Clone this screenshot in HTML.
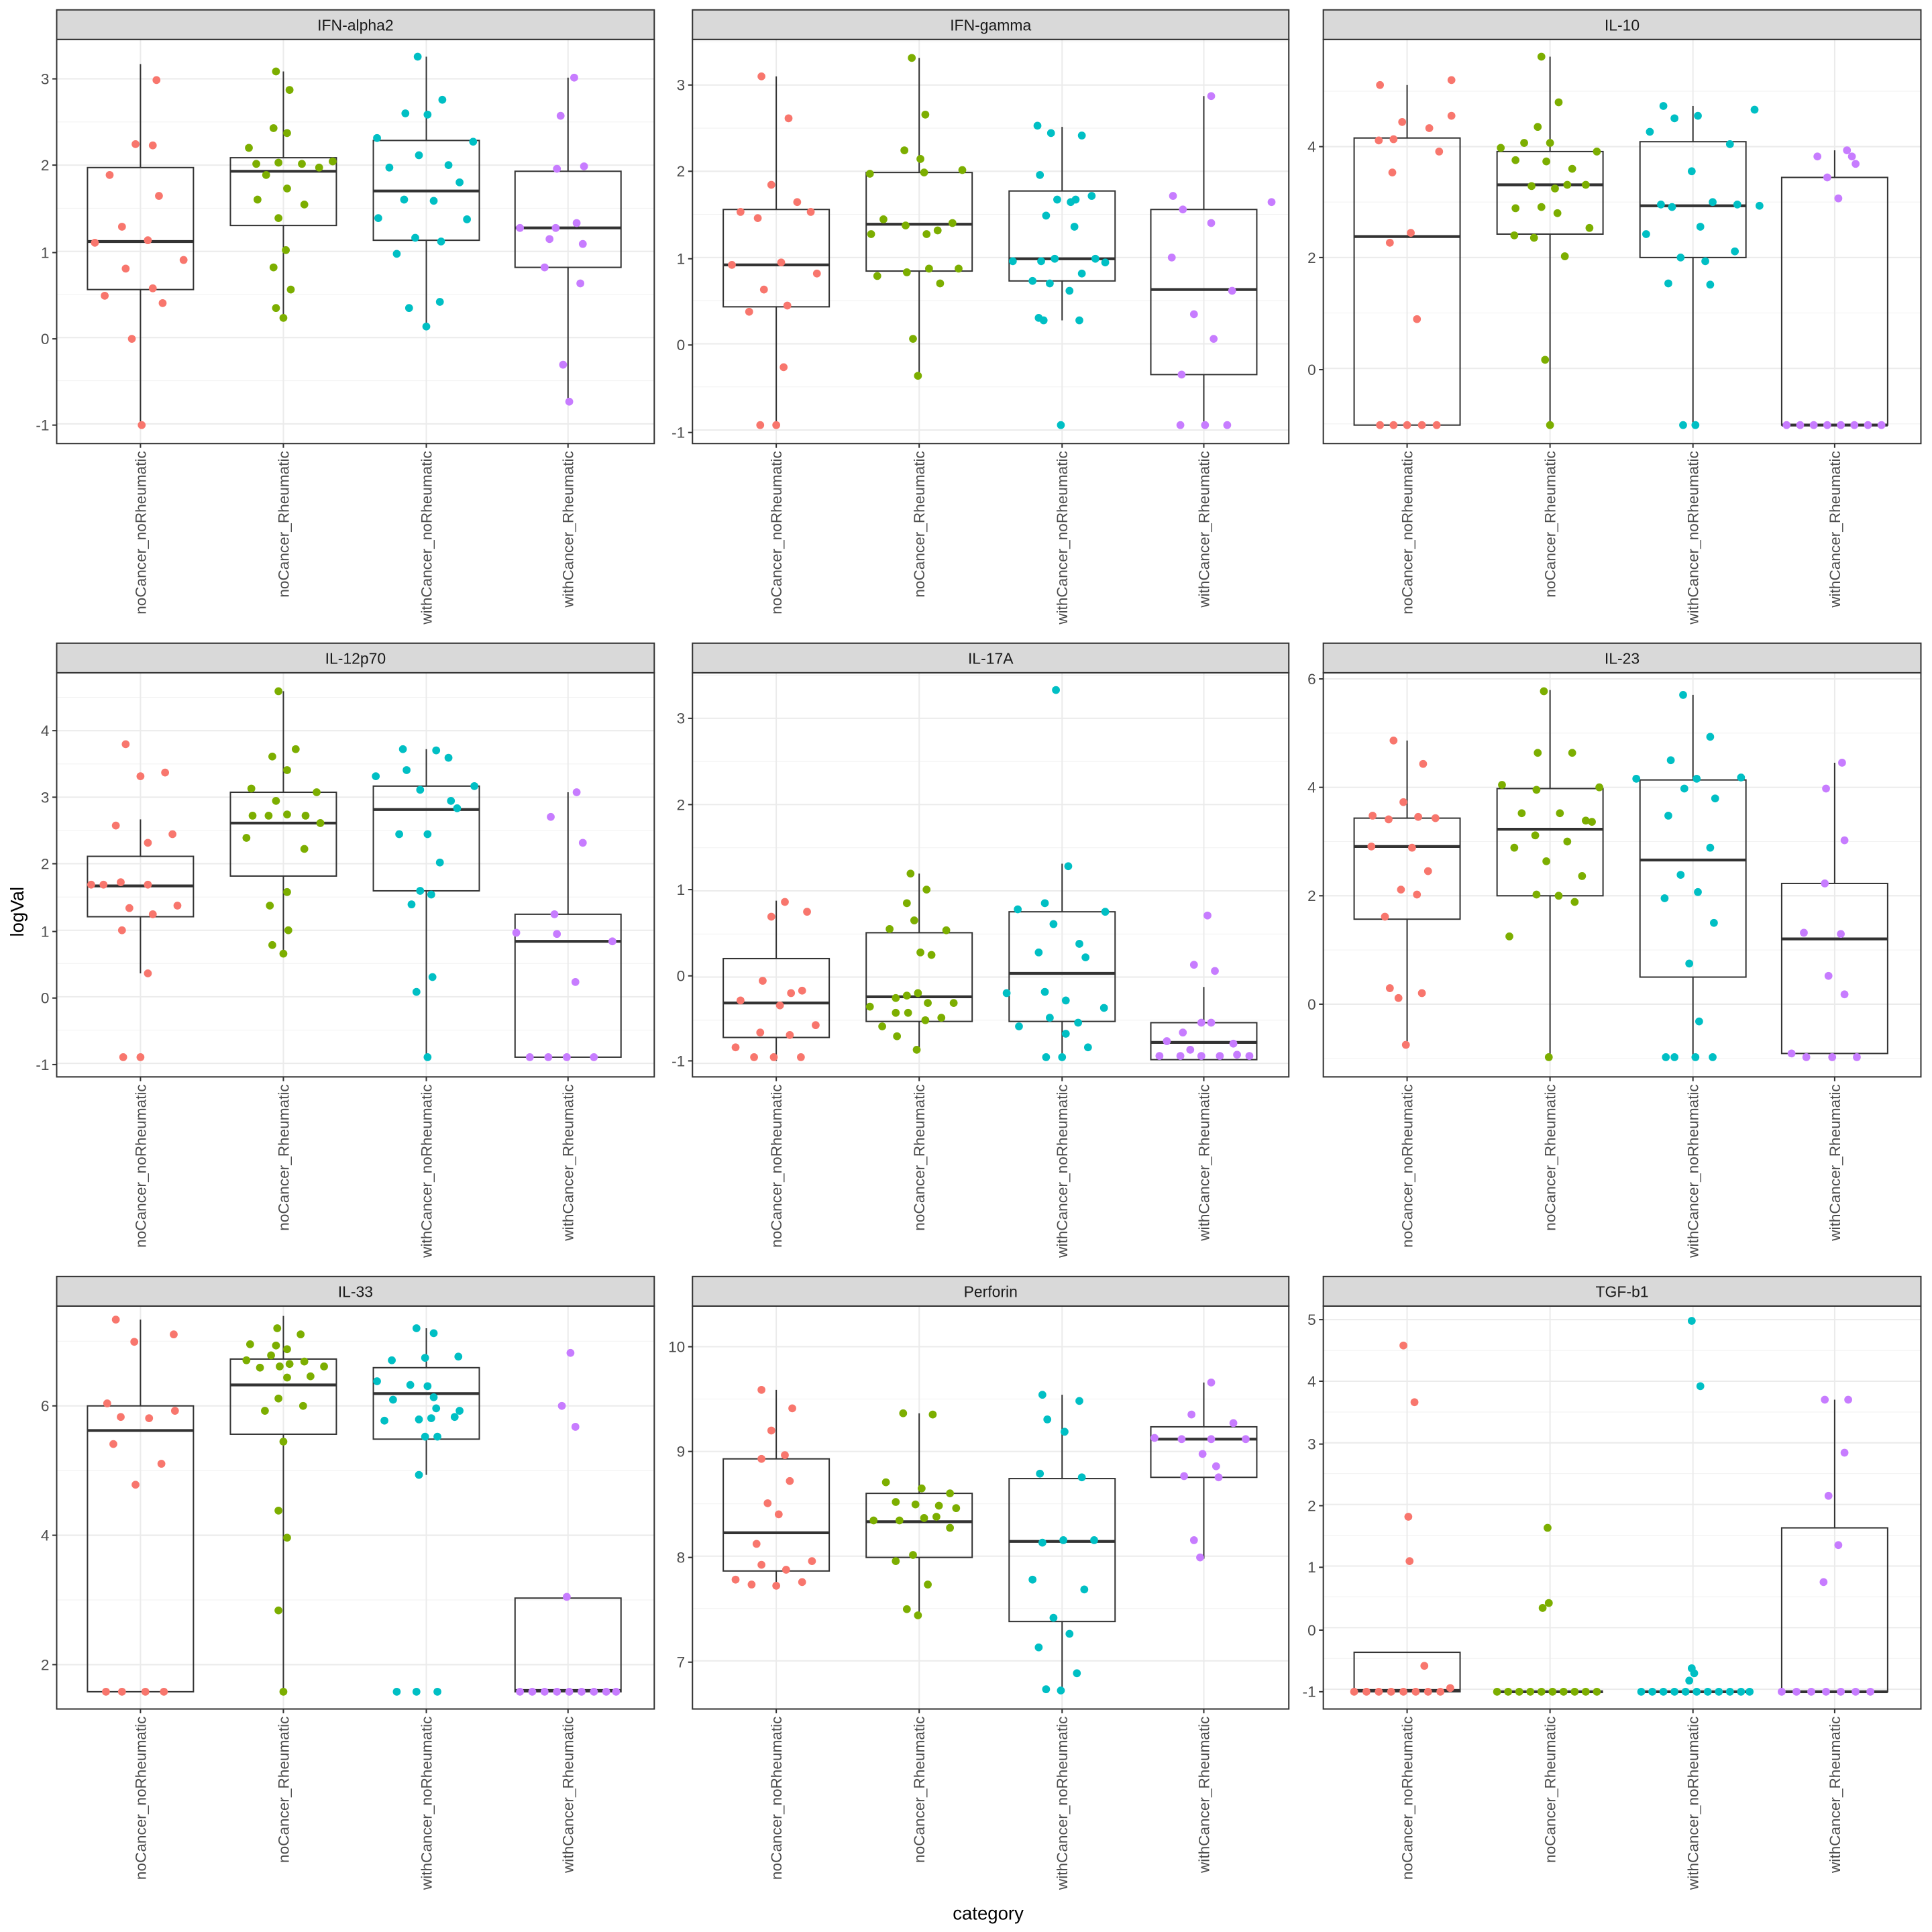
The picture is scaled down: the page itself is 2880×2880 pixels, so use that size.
<!DOCTYPE html>
<html><head><meta charset="utf-8"><style>html,body{margin:0;padding:0;background:#fff}svg{display:block}</style></head>
<body>
<svg id="s" xmlns="http://www.w3.org/2000/svg" width="2880" height="2880" viewBox="0 0 1568 1568" font-family="Liberation Sans, sans-serif"></svg>
<script>
const C=['#F8766D','#7CAE00','#00BFC4','#C77CFF'];
const cols=[[46,531],[562,1046],[1074,1559]];
const rows=[[8,32,360],[522,546,874],[1036,1060,1387]];
const labs=['noCancer_noRheumatic','noCancer_Rheumatic','withCancer_noRheumatic','withCancer_Rheumatic'];
const P=[
{t:'IFN-alpha2',ticks:[[3,64],[2,134],[1,205],[0,275],[-1,345]],
 b:[[136,196,235,52,345],[128,139,183,58,258],[114,155,195,46,265],[139,185,217,63,326]],
 p:[[[102,24],[127,65],[110,117],[124,118],[89,142],[129,159],[99,184],[77,197],[120,195],[149,211],[102,218],[124,234],[132,246],[85,240],[107,275],[115,345]],
 [[224,58],[235,73],[202,120],[222,104],[233,108],[216,142],[226,132],[208,133],[245,133],[259,136],[270,131],[233,153],[209,162],[247,166],[226,177],[232,203],[222,217],[236,235],[224,250],[230,258]],
 [[339,46],[329,92],[347,93],[359,81],[306,112],[384,115],[340,126],[316,136],[364,134],[373,148],[307,177],[328,162],[352,163],[379,178],[337,193],[358,196],[322,206],[332,250],[357,245],[346,265]],
 [[466,63],[455,94],[452,137],[474,135],[422,185],[451,185],[468,181],[473,198],[446,194],[442,217],[471,230],[457,296],[462,326]]]},
{t:'IFN-gamma',ticks:[[3,69],[2,139],[1,210],[0,280],[-1,351]],
 b:[[170,215,249,62,345],[140,182,220,47,305],[155,210,228,103,260],[170,235,304,78,345]],
 p:[[[618,62],[640,96],[626,150],[647,164],[601,172],[615,177],[658,172],[594,215],[634,213],[663,222],[620,235],[639,248],[608,253],[636,298],[617,345],[630,345]],
 [[740,47],[751,93],[734,122],[747,129],[717,178],[735,183],[761,187],[773,181],[707,190],[752,190],[781,138],[750,140],[706,141],[712,224],[736,221],[754,218],[763,230],[778,218],[741,275],[745,305]],
 [[842,102],[853,108],[878,110],[844,142],[886,159],[858,162],[869,164],[873,162],[849,175],[872,184],[822,212],[845,212],[856,210],[889,210],[897,213],[878,222],[838,228],[852,230],[847,260],[868,236],[843,258],[876,260],[861,345]],
 [[983,78],[952,159],[960,170],[1032,164],[983,181],[951,209],[1000,236],[969,255],[985,275],[959,304],[958,345],[978,345],[996,345]]]},
{t:'IL-10',ticks:[[4,119],[2,209],[0,300]],
 b:[[112,192,345,69,345],[123,150,190,46,345],[115,167,209,86,345],[144,345,345,122,345]],
 p:[[[1120,69],[1178,65],[1138,99],[1160,104],[1178,94],[1131,113],[1119,114],[1168,123],[1130,140],[1145,189],[1128,197],[1150,259],[1120,345],[1131,345],[1142,345],[1154,345],[1166,345]],
 [[1251,46],[1265,83],[1248,103],[1218,120],[1237,116],[1258,116],[1230,130],[1255,131],[1276,137],[1296,123],[1272,150],[1287,150],[1243,151],[1262,153],[1251,168],[1230,169],[1264,173],[1290,185],[1229,191],[1245,193],[1270,208],[1254,292],[1258,345]],
 [[1350,86],[1359,96],[1378,94],[1424,89],[1339,107],[1404,117],[1373,139],[1348,166],[1357,168],[1390,164],[1410,166],[1428,167],[1336,190],[1380,184],[1408,204],[1364,209],[1384,212],[1354,230],[1388,231],[1366,345],[1376,345]],
 [[1503,127],[1499,122],[1506,133],[1483,144],[1492,161],[1475,127],[1450,345],[1461,345],[1472,345],[1483,345],[1494,345],[1505,345],[1516,345],[1527,345]]]},
{t:'IL-12p70',ticks:[[4,593],[3,647],[2,701],[1,756],[0,810],[-1,864]],
 b:[[695,719,744,665,790],[643,668,711,561,774],[638,657,723,608,858],[742,764,858,643,858]],
 p:[[[102,604],[114,630],[134,627],[94,670],[120,684],[140,677],[84,718],[98,716],[120,718],[74,718],[105,737],[124,742],[144,735],[99,755],[120,790],[100,858],[114,858]],
 [[226,561],[240,608],[221,614],[233,625],[204,640],[257,643],[224,650],[205,662],[218,662],[248,662],[260,668],[233,661],[200,680],[247,689],[233,724],[219,735],[234,755],[221,767],[230,774]],
 [[327,608],[354,609],[364,615],[330,625],[305,630],[341,641],[385,638],[366,650],[371,656],[324,677],[347,677],[357,700],[341,723],[350,726],[334,734],[351,793],[338,805],[347,858]],
 [[468,643],[447,663],[473,684],[450,742],[419,757],[452,758],[497,764],[467,797],[430,858],[445,858],[460,858],[482,858]]]},
{t:'IL-17A',ticks:[[3,583],[2,653],[1,722],[0,792],[-1,861]],
 b:[[778,814,842,731,861],[757,809,829,709,852],[740,790,829,701,858],[830,846,860,801,860]],
 p:[[[637,732],[626,744],[655,740],[642,806],[619,796],[651,804],[601,812],[633,816],[617,838],[662,832],[641,840],[597,850],[612,858],[628,858],[650,858]],
 [[739,709],[752,722],[736,733],[768,755],[742,747],[722,754],[747,773],[756,775],[736,808],[745,806],[727,810],[774,814],[706,817],[727,822],[737,822],[753,814],[751,828],[764,826],[716,833],[728,841],[744,852]],
 [[857,560],[867,703],[848,733],[826,738],[897,740],[855,750],[843,773],[876,766],[881,777],[817,806],[848,805],[865,812],[896,818],[852,826],[827,833],[875,830],[865,839],[883,850],[849,858],[862,858]],
 [[980,743],[969,783],[986,788],[960,838],[975,830],[983,830],[947,845],[966,852],[1001,847],[941,857],[958,857],[975,857],[990,857],[1004,856],[1014,857]]]},
{t:'IL-23',ticks:[[6,551],[4,639],[2,727],[0,815]],
 b:[[664,687,746,601,848],[640,673,727,560,858],[633,698,793,564,858],[717,762,855,619,855]],
 p:[[[1131,601],[1155,620],[1114,662],[1139,651],[1113,687],[1146,688],[1127,665],[1151,663],[1165,664],[1159,707],[1137,722],[1150,726],[1124,744],[1128,802],[1154,806],[1141,848],[1135,810]],
 [[1253,561],[1248,611],[1276,611],[1219,637],[1247,641],[1298,639],[1235,660],[1266,660],[1287,666],[1246,678],[1272,683],[1292,667],[1229,688],[1255,699],[1247,726],[1265,727],[1278,732],[1284,711],[1225,760],[1257,858]],
 [[1366,564],[1388,598],[1356,617],[1328,632],[1377,632],[1413,631],[1367,640],[1392,648],[1354,662],[1388,688],[1364,710],[1378,724],[1351,729],[1391,749],[1371,782],[1379,829],[1352,858],[1359,858],[1376,858],[1390,858]],
 [[1495,619],[1482,640],[1497,682],[1481,717],[1464,757],[1494,758],[1484,792],[1497,807],[1454,855],[1466,858],[1487,858],[1507,858]]]},
{t:'IL-33',ticks:[[6,1141],[4,1246],[2,1351]],
 b:[[1141,1161,1373,1071,1373],[1103,1124,1164,1068,1373],[1110,1131,1168,1078,1197],[1297,1372,1373,1297,1373]],
 p:[[[94,1071],[141,1083],[109,1089],[87,1139],[142,1145],[98,1150],[121,1151],[92,1172],[131,1188],[110,1205],[86,1373],[99,1373],[118,1373],[133,1373]],
 [[225,1078],[244,1083],[203,1091],[224,1092],[233,1095],[200,1104],[220,1100],[211,1110],[235,1107],[247,1105],[263,1109],[227,1109],[252,1117],[233,1118],[226,1135],[246,1141],[215,1145],[230,1170],[226,1226],[233,1248],[226,1307],[230,1373]],
 [[338,1078],[352,1082],[318,1104],[345,1102],[372,1101],[306,1121],[333,1124],[347,1125],[352,1134],[319,1136],[354,1143],[373,1145],[340,1152],[350,1151],[312,1153],[369,1150],[345,1166],[355,1166],[340,1197],[322,1373],[338,1373],[355,1373]],
 [[463,1098],[456,1141],[467,1158],[460,1296],[422,1373],[432,1373],[442,1373],[452,1373],[462,1373],[472,1373],[482,1373],[492,1373],[500,1373]]]},
{t:'Perforin',ticks:[[10,1093],[9,1178],[8,1264],[7,1349]],
 b:[[1184,1244,1275,1128,1287],[1212,1235,1264,1147,1311],[1200,1251,1316,1132,1372],[1158,1168,1199,1122,1265]],
 p:[[[618,1128],[643,1143],[626,1161],[637,1181],[618,1184],[641,1202],[623,1220],[632,1229],[614,1253],[659,1267],[618,1270],[638,1274],[597,1282],[610,1286],[630,1287],[651,1284]],
 [[733,1147],[757,1148],[719,1203],[748,1208],[771,1212],[727,1219],[743,1221],[762,1222],[776,1224],[709,1234],[730,1234],[750,1232],[760,1231],[771,1240],[741,1262],[727,1267],[753,1286],[736,1306],[745,1311]],
 [[846,1132],[876,1137],[850,1152],[864,1162],[844,1196],[878,1199],[846,1252],[888,1250],[863,1250],[838,1282],[880,1290],[855,1313],[868,1326],[843,1337],[874,1358],[849,1371],[861,1372]],
 [[983,1122],[967,1148],[1001,1155],[937,1167],[959,1168],[983,1168],[1011,1168],[976,1180],[987,1190],[961,1198],[989,1199],[969,1250],[974,1264]]]},
{t:'TGF-b1',ticks:[[5,1071],[4,1121],[3,1172],[2,1222],[1,1272],[0,1323],[-1,1373]],
 b:[[1341,1372,1373,1341,1373],[1373,1373,1373,1373,1373],[1373,1373,1373,1373,1373],[1240,1373,1373,1136,1373]],
 p:[[[1139,1092],[1148,1138],[1143,1231],[1144,1267],[1156,1352],[1099,1373],[1109,1373],[1119,1373],[1129,1373],[1139,1373],[1149,1373],[1159,1373],[1169,1373],[1177,1370]],
 [[1256,1240],[1257,1301],[1252,1305],[1215,1373],[1224,1373],[1233,1373],[1242,1373],[1251,1373],[1260,1373],[1269,1373],[1278,1373],[1287,1373],[1296,1373]],
 [[1373,1072],[1380,1125],[1373,1354],[1375,1358],[1371,1364],[1332,1373],[1341,1373],[1350,1373],[1359,1373],[1368,1373],[1377,1373],[1386,1373],[1395,1373],[1404,1373],[1413,1373],[1420,1373]],
 [[1481,1136],[1500,1136],[1497,1179],[1484,1214],[1492,1254],[1480,1284],[1446,1373],[1458,1373],[1470,1373],[1482,1373],[1494,1373],[1506,1373],[1518,1373]]]}
];
let h='';
P.forEach((pn,i)=>{
 const [x0,x1]=cols[i%3],[sy,y0,y1]=rows[Math.floor(i/3)];
 const cx=[68,184,300,415].map(d=>x0+d);
 h+=`<rect x="${x0}" y="${y0}" width="${x1-x0}" height="${y1-y0}" fill="#fff"/>`;
 const tk=pn.ticks, step=tk[1][1]-tk[0][1];
 let ys=[];for(let k=-2;k<tk.length+2;k++){ys.push(tk[0][1]+step*k);}
 ys.forEach(y=>{const m=y+step/2;if(m>y0&&m<y1)h+=`<line x1="${x0}" x2="${x1}" y1="${m}" y2="${m}" stroke="#F2F2F2" stroke-width="0.6"/>`;});
 ys.forEach(y=>{if(y>y0&&y<y1)h+=`<line x1="${x0}" x2="${x1}" y1="${y}" y2="${y}" stroke="#EBEBEB" stroke-width="1.1"/>`;});
 cx.forEach(x=>h+=`<line x1="${x}" x2="${x}" y1="${y0}" y2="${y1}" stroke="#EBEBEB" stroke-width="1.1"/>`);
 pn.b.forEach((b,j)=>{const x=cx[j];const [t,m,bt,wt,wb]=b;
  h+=`<line x1="${x}" x2="${x}" y1="${wt}" y2="${t}" stroke="#333" stroke-width="1.1"/><line x1="${x}" x2="${x}" y1="${bt}" y2="${wb}" stroke="#333" stroke-width="1.1"/>`;
  h+=`<rect x="${x-43}" y="${t}" width="86" height="${bt-t}" fill="none" stroke="#333" stroke-width="1.1"/>`;
  h+=`<line x1="${x-43}" x2="${x+43}" y1="${m}" y2="${m}" stroke="#333" stroke-width="2.3"/>`;});
 pn.p.forEach((g,j)=>g.forEach(([x,y])=>h+=`<circle cx="${x}" cy="${y}" r="3.2" fill="${C[j]}"/>`));
 h+=`<rect x="${x0}" y="${y0}" width="${x1-x0}" height="${y1-y0}" fill="none" stroke="#333" stroke-width="1.1"/>`;
 h+=`<rect x="${x0}" y="${sy}" width="${x1-x0}" height="${y0-sy}" fill="#D9D9D9" stroke="#333" stroke-width="1.1"/>`;
 h+=`<text x="${(x0+x1)/2}" y="${sy+16.8}" font-size="12.5" fill="#1A1A1A" text-anchor="middle">${pn.t}</text>`;
 tk.forEach(([v,y])=>{h+=`<line x1="${x0-3.5}" x2="${x0}" y1="${y}" y2="${y}" stroke="#333" stroke-width="1.1"/><text x="${x0-6}" y="${y+4.3}" font-size="12.3" fill="#4D4D4D" text-anchor="end">${v}</text>`;});
 cx.forEach((x,j)=>{h+=`<line x1="${x}" x2="${x}" y1="${y1}" y2="${y1+3.5}" stroke="#333" stroke-width="1.1"/><text transform="translate(${x+4.3},${y1+6}) rotate(-90)" font-size="12.3" fill="#4D4D4D" text-anchor="end">${labs[j]}</text>`;});
});
h+=`<text transform="translate(19,740) rotate(-90)" font-size="15" fill="#000" text-anchor="middle">logVal</text>`;
h+=`<text x="802" y="1558" font-size="15" fill="#000" text-anchor="middle">category</text>`;
document.getElementById('s').innerHTML=h;
</script>
</body></html>
